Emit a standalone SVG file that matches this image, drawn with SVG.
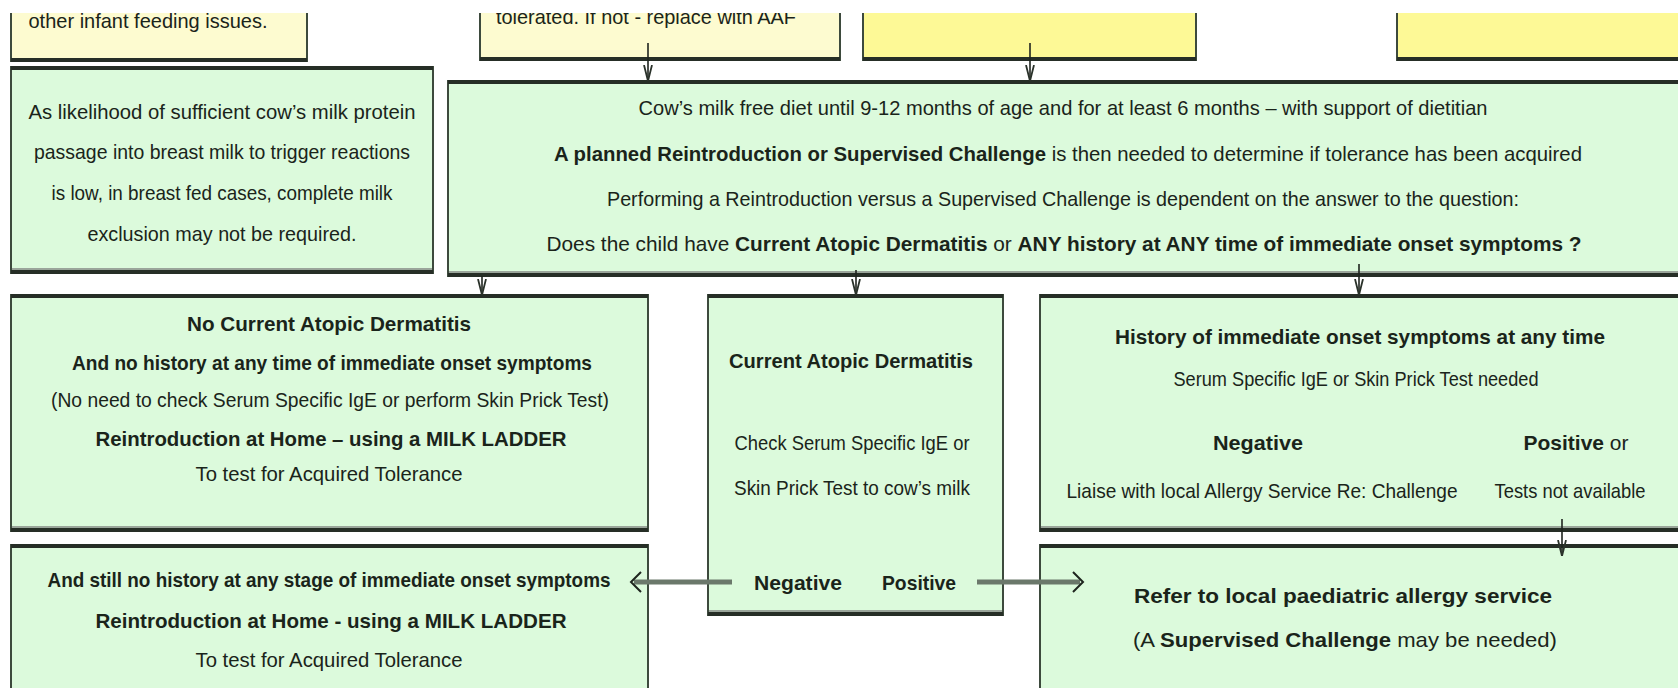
<svg xmlns="http://www.w3.org/2000/svg" width="1678" height="688" viewBox="0 0 1678 688">
<defs>
<style>
.g{fill:#dcfadc;stroke:#3d4a3d;stroke-width:2}
.y1{fill:#fdfbd0;stroke:#3d4a3d;stroke-width:2}
.y2{fill:#fdf996;stroke:#3d4a3d;stroke-width:2}
.bb{stroke:#262e26;stroke-width:4}
.sh{stroke:#9aa59a;stroke-width:2}
text{font-family:"Liberation Sans Narrow","Liberation Sans",Arial,sans-serif;fill:#1a241a;text-anchor:middle;font-size:21px}
.b{font-weight:bold}
.c{stroke:#1e241e;stroke-width:1.6;fill:none}
.h{stroke:#6b786b;stroke-width:5;fill:none}
</style>
<marker id="ad" viewBox="0 0 16 10" refX="16" refY="5" markerWidth="16" markerHeight="10" markerUnits="userSpaceOnUse" orient="auto">
<path d="M0,1 L16,5 L0,9" fill="none" stroke="#2a322a" stroke-width="1.8"/>
</marker>
</defs>
<rect width="1678" height="688" fill="#ffffff"/>

<g id="nodeA">
<rect class="y1" x="11" y="-10" width="296" height="71"/>
<line class="bb" x1="11" y1="60" x2="307" y2="60"/>
<text x="148" y="28" textLength="239" lengthAdjust="spacingAndGlyphs">other infant feeding issues.</text>
</g>
<g id="nodeB">
<rect class="y1" x="480" y="-10" width="360" height="70"/>
<line class="bb" x1="480" y1="59" x2="840" y2="59"/>
<text x="646" y="24" textLength="300" lengthAdjust="spacingAndGlyphs">tolerated. If not - replace with AAF</text>
</g>
<g id="nodeC">
<rect class="y2" x="863" y="-10" width="333" height="70"/>
<line class="bb" x1="863" y1="59" x2="1196" y2="59"/>
</g>
<g id="nodeD">
<rect class="y2" x="1397" y="-10" width="300" height="70"/>
<line class="bb" x1="1397" y1="59" x2="1690" y2="59"/>
</g>
<rect x="0" y="0" width="1678" height="13" fill="#ffffff"/>

<g id="nodeE">
<rect class="g" x="11" y="67" width="422" height="206"/>
<line class="bb" x1="11" y1="68" x2="433" y2="68"/>
<line class="sh" x1="12" y1="269" x2="432" y2="269"/>
<line class="bb" x1="11" y1="272" x2="433" y2="272"/>
<text x="222" y="119" textLength="387" lengthAdjust="spacingAndGlyphs">As likelihood of sufficient cow’s milk protein</text>
<text x="222" y="159" textLength="376" lengthAdjust="spacingAndGlyphs">passage into breast milk to trigger  reactions</text>
<text x="222" y="200" textLength="341" lengthAdjust="spacingAndGlyphs">is low, in breast fed cases, complete milk</text>
<text x="222" y="241" textLength="269" lengthAdjust="spacingAndGlyphs">exclusion may not be required.</text>
</g>

<g id="nodeF">
<rect class="g" x="448" y="81" width="1250" height="195"/>
<line class="bb" x1="448" y1="82" x2="1690" y2="82"/>
<line class="sh" x1="449" y1="272" x2="1690" y2="272"/>
<line class="bb" x1="448" y1="275" x2="1690" y2="275"/>
<text x="1063" y="115" textLength="849" lengthAdjust="spacingAndGlyphs">Cow’s milk free diet until 9-12 months of age and for at least 6 months – with support of dietitian</text>
<text x="1068" y="161" font-size="22" textLength="1028" lengthAdjust="spacingAndGlyphs"><tspan class="b">A planned  Reintroduction  or Supervised Challenge</tspan> is then needed to determine if tolerance has been acquired</text>
<text x="1063" y="206" textLength="912" lengthAdjust="spacingAndGlyphs">Performing a Reintroduction versus a Supervised Challenge is dependent on the answer to the question:</text>
<text x="1064" y="251" font-size="22" textLength="1035" lengthAdjust="spacingAndGlyphs">Does the child have <tspan class="b">Current Atopic  Dermatitis</tspan>  or  <tspan class="b">ANY history at ANY time of immediate  onset symptoms ?</tspan></text>
</g>

<g id="nodeG">
<rect class="g" x="11" y="295" width="637" height="236"/>
<line class="bb" x1="11" y1="296" x2="648" y2="296"/>
<line class="sh" x1="12" y1="527" x2="647" y2="527"/>
<line class="bb" x1="11" y1="530" x2="648" y2="530"/>
<text class="b" x="329" y="331" font-size="23" textLength="284" lengthAdjust="spacingAndGlyphs">No Current Atopic Dermatitis</text>
<text class="b" x="332" y="370" font-size="21" textLength="520" lengthAdjust="spacingAndGlyphs">And no history at any time of immediate onset symptoms</text>
<text x="330" y="407" textLength="558" lengthAdjust="spacingAndGlyphs">(No need to check Serum Specific IgE or perform Skin Prick Test)</text>
<text class="b" x="331" y="446" font-size="23" textLength="471" lengthAdjust="spacingAndGlyphs">Reintroduction  at Home – using a MILK LADDER</text>
<text x="329" y="481" textLength="267" lengthAdjust="spacingAndGlyphs">To test for Acquired Tolerance</text>
</g>

<g id="nodeH">
<rect class="g" x="708" y="295" width="295" height="320"/>
<line class="bb" x1="708" y1="296" x2="1003" y2="296"/>
<line class="sh" x1="709" y1="611" x2="1002" y2="611"/>
<line class="bb" x1="708" y1="614" x2="1003" y2="614"/>
<text class="b" x="851" y="368" font-size="23" textLength="244" lengthAdjust="spacingAndGlyphs">Current Atopic  Dermatitis</text>
<text x="852" y="450" textLength="235" lengthAdjust="spacingAndGlyphs">Check Serum  Specific IgE or</text>
<text x="852" y="495" textLength="236" lengthAdjust="spacingAndGlyphs">Skin Prick Test to cow’s milk</text>
<text class="b" x="798" y="590" font-size="23" textLength="88" lengthAdjust="spacingAndGlyphs">Negative</text>
<text class="b" x="919" y="590" font-size="23" textLength="74" lengthAdjust="spacingAndGlyphs">Positive</text>
</g>

<g id="nodeI">
<rect class="g" x="1040" y="295" width="660" height="236"/>
<line class="bb" x1="1040" y1="296" x2="1690" y2="296"/>
<line class="sh" x1="1041" y1="527" x2="1690" y2="527"/>
<line class="bb" x1="1040" y1="530" x2="1690" y2="530"/>
<text class="b" x="1360" y="344" font-size="23" textLength="490" lengthAdjust="spacingAndGlyphs">History of immediate  onset  symptoms at any time</text>
<text x="1356" y="386" textLength="365" lengthAdjust="spacingAndGlyphs">Serum Specific IgE or Skin Prick Test needed</text>
<text class="b" x="1258" y="450" font-size="23" textLength="90" lengthAdjust="spacingAndGlyphs">Negative</text>
<text x="1576" y="450" font-size="23" textLength="105" lengthAdjust="spacingAndGlyphs"><tspan class="b">Positive</tspan> or</text>
<text x="1262" y="498" textLength="391" lengthAdjust="spacingAndGlyphs">Liaise with  local Allergy Service Re: Challenge</text>
<text x="1570" y="498" textLength="151" lengthAdjust="spacingAndGlyphs">Tests not available</text>
</g>

<g id="nodeJ">
<rect class="g" x="11" y="545" width="637" height="160"/>
<line class="bb" x1="11" y1="546" x2="648" y2="546"/>
<text class="b" x="329" y="587" font-size="21" textLength="563" lengthAdjust="spacingAndGlyphs">And still no history at any stage of immediate onset symptoms</text>
<text class="b" x="331" y="628" font-size="23" textLength="471" lengthAdjust="spacingAndGlyphs">Reintroduction  at Home  - using  a MILK LADDER</text>
<text x="329" y="667" textLength="267" lengthAdjust="spacingAndGlyphs">To test for Acquired Tolerance</text>
</g>

<g id="nodeK">
<rect class="g" x="1040" y="545" width="660" height="160"/>
<line class="bb" x1="1040" y1="546" x2="1690" y2="546"/>
<text class="b" x="1343" y="603" font-size="23" textLength="418" lengthAdjust="spacingAndGlyphs">Refer to local paediatric  allergy service</text>
<text x="1345" y="647" textLength="424" lengthAdjust="spacingAndGlyphs">(A <tspan class="b">Supervised Challenge</tspan>  may be needed)</text>
</g>

<g id="connectors">
<line class="c" x1="648" y1="43" x2="648" y2="81" marker-end="url(#ad)"/>
<line class="c" x1="1030" y1="43" x2="1030" y2="81" marker-end="url(#ad)"/>
<line class="c" x1="482" y1="276" x2="482" y2="295" marker-end="url(#ad)"/>
<line class="c" x1="856" y1="270" x2="856" y2="295" marker-end="url(#ad)"/>
<line class="c" x1="1359" y1="264" x2="1359" y2="295" marker-end="url(#ad)"/>
<line class="c" x1="1562" y1="519" x2="1562" y2="556" marker-end="url(#ad)"/>
<line class="h" x1="732" y1="582" x2="634" y2="582"/>
<path d="M641,572 L631,582 L641,592" fill="none" stroke="#1e241e" stroke-width="2"/>
<line class="h" x1="977" y1="582" x2="1080" y2="582"/>
<path d="M1073,572 L1083,582 L1073,592" fill="none" stroke="#1e241e" stroke-width="2"/>
</g>
</svg>
